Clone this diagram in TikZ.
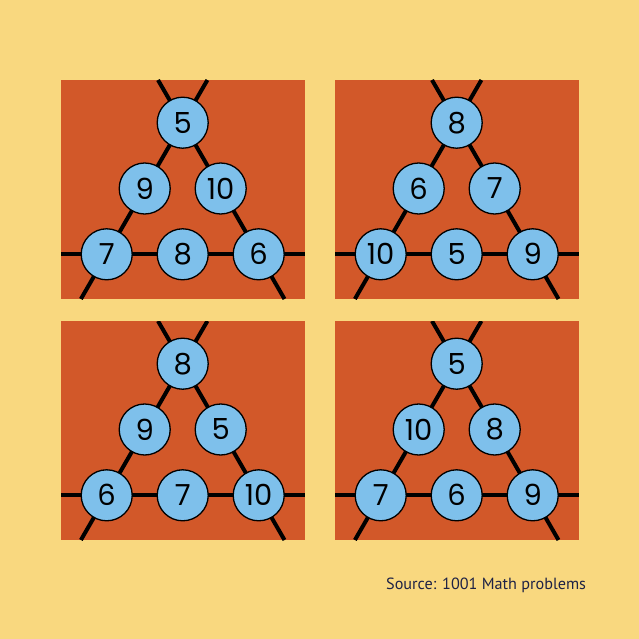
\documentclass[tikz,border=0pt]{standalone}
\usepackage{fontspec}
\newfontfamily\numfont{Poppins}
\newfontfamily\srcfont{PT Sans}
\definecolor{bgy}{HTML}{F9D87F}
\definecolor{panelred}{HTML}{D25829}
\definecolor{ballblue}{HTML}{7EC0EB}
\definecolor{srcnavy}{HTML}{1E2245}
\tikzset{
  panelbox/.style={fill=panelred,draw=none},
  sideline/.style={line width=4pt,black},
  ball/.style={circle,fill=ballblue,draw=black,line width=1.3pt,minimum size=51pt,
    inner sep=0pt,font=\numfont\fontsize{29}{29}\selectfont},
  srctext/.style={font=\srcfont\fontsize{16.2}{17}\selectfont,text=srcnavy,inner sep=0pt},
}
\newcommand\trpanel[9]{%
  \begin{scope}[shift={(#2,#3)}]
    \fill[panelbox] (0,0) rectangle (244,219);
    \coordinate (#1t)  at (121.7,42.7);
    \coordinate (#1ml) at (83.7,108.5);
    \coordinate (#1mr) at (159.7,108.5);
    \coordinate (#1bl) at (45.7,174.3);
    \coordinate (#1bm) at (121.7,174.3);
    \coordinate (#1br) at (197.7,174.3);
    \coordinate (#1ul) at (97.0,0);
    \coordinate (#1dl) at (19.9,219);
    \coordinate (#1ur) at (146.4,0);
    \coordinate (#1dr) at (223.5,219);
    \coordinate (#1hl) at (0,174.3);
    \coordinate (#1hr) at (244,174.3);
    \begin{scope}
      \clip (0,0) rectangle (244,219);
      \draw[sideline] (#1ul) -- (#1t) -- (#1ml) -- (#1bl) -- (#1dl);
      \draw[sideline] (#1ur) -- (#1t) -- (#1mr) -- (#1br) -- (#1dr);
      \draw[sideline] (#1hl) -- (#1bl) -- (#1bm) -- (#1br) -- (#1hr);
    \end{scope}
    \node[ball] (#1nt)  at (#1t)  {#4};
    \node[ball] (#1nml) at (#1ml) {#5};
    \node[ball] (#1nmr) at (#1mr) {#6};
    \node[ball] (#1nbl) at (#1bl) {#7};
    \node[ball] (#1nbm) at (#1bm) {#8};
    \node[ball] (#1nbr) at (#1br) {#9};
  \end{scope}}
\begin{document}
\begin{tikzpicture}[x=1pt,y=-1pt]
  \useasboundingbox (0,0) rectangle (639,639);
  \fill[bgy] (0,0) rectangle (639,639);
  \trpanel{a}{61}{80}{5}{9}{10}{7}{8}{6}
  \trpanel{b}{335}{80}{8}{6}{7}{10}{5}{9}
  \trpanel{c}{61}{321}{8}{9}{5}{6}{7}{10}
  \trpanel{d}{335}{321}{5}{10}{8}{7}{6}{9}
  \node[srctext,anchor=base west] (src) at (386,589) {Source: 1001 Math problems};
\end{tikzpicture}
\end{document}
